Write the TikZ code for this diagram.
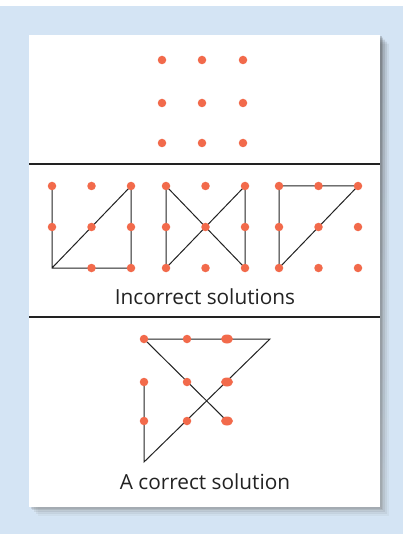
\documentclass[tikz,border=0pt]{standalone}
\usepackage{fontspec}
\setmainfont{Open Sans}
\usetikzlibrary{shapes.geometric}
\definecolor{bgblue}{HTML}{D4E4F4}
\definecolor{dotred}{HTML}{F26A4B}
\definecolor{ink}{HTML}{222222}
\definecolor{shade}{HTML}{5A6A80}

\begin{document}
\begin{tikzpicture}[x=1pt,y=-1pt,
  dot/.style={circle,fill=dotred,inner sep=0pt,minimum size=8.5pt},
  wdot/.style={ellipse,fill=dotred,inner sep=0pt,minimum width=12pt,minimum height=9pt},
  seg/.style={draw=ink,line width=1pt},
  rule/.style={draw=ink,line width=1.2pt},
  caption/.style={font=\fontsize{20.8}{23}\selectfont,text=ink,inner sep=0pt}]
\useasboundingbox (0,0) rectangle (403,534);
% page and card
\fill[bgblue] (0,6) rectangle (403,534);
\foreach \o/\op in {9/0.04,7/0.06,5/0.08,3/0.10,1.5/0.12}
  \fill[shade,opacity=\op] (29+\o,35+\o) rectangle (380+\o,507+\o);
\fill[white] (29,35) rectangle (380,507);
\draw[rule] (29,164) -- (380,164);
\draw[rule] (29,317) -- (380,317);

% the puzzle
\foreach \c/\x in {1/162,2/202,3/243}
  \foreach \r/\y in {1/60,2/103,3/143}
    \node[dot] (t\c\r) at (\x,\y) {};

% incorrect attempts
\foreach \g/\x in {a/52,b/166,c/279}
  \foreach \c in {1,2,3}
    \foreach \r/\y in {1/186,2/227,3/268}
      \coordinate (\g\c\r) at ({\x+(\c-1)*39.5},\y);
\draw[seg] (a11) -- (a13) -- (a33) -- (a31) -- (a13);
\draw[seg] (b11) -- (b13) -- (b31) -- (b33) -- (b11);
\draw[seg] (c13) -- (c11) -- (c31) -- (c13);
\foreach \n in {a11,a12,a21,a22,a23,a31,a32,a33}
  \node[dot] at (\n) {};
\foreach \g in {b,c}
  \foreach \c in {1,2,3}
    \foreach \r in {1,2,3}
      \node[dot] at (\g\c\r) {};
\node[caption] (inc) at (205,297) {Incorrect solutions};

% the correct one
\foreach \c/\x in {1/144,2/187,3/227}
  \foreach \r/\y in {1/339,2/382,3/421}
    \coordinate (s\c\r) at (\x,\y);
\coordinate (tr) at (270,339);
\coordinate (bl) at (144,462);
\draw[seg] (s12) -- (bl) -- (tr) -- (s11) -- (s33);
\foreach \c in {1,2}
  \foreach \r in {1,2,3}
    \node[dot] at (s\c\r) {};
\foreach \r in {1,2,3}
  \node[wdot] at (s3\r) {};
\node[caption] (cor) at (205,482) {A correct solution};
\end{tikzpicture}
\end{document}
